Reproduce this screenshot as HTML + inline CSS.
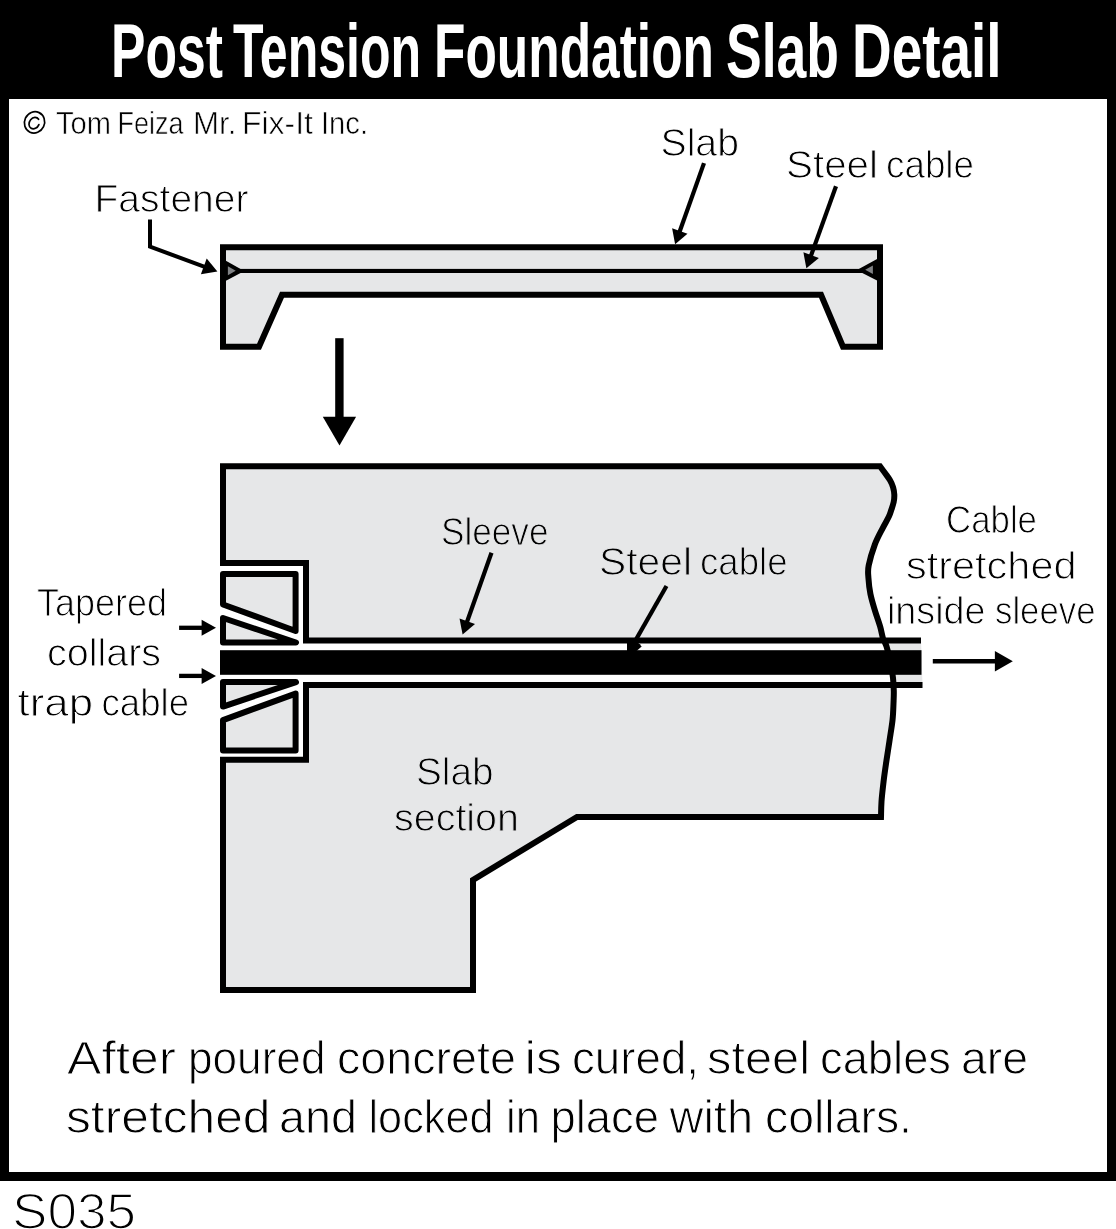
<!DOCTYPE html>
<html><head><meta charset="utf-8"><title>Post Tension Foundation Slab Detail</title>
<style>
html,body{margin:0;padding:0;background:#fff;width:1116px;height:1229px;overflow:hidden;}
svg{display:block;will-change:transform;font-family:"Liberation Sans",sans-serif;}
</style></head><body>
<svg width="1116" height="1229" viewBox="0 0 1116 1229" font-family="Liberation Sans, sans-serif"><rect x="0" y="0" width="1116" height="1181" fill="#000"/>
<rect x="9" y="99" width="1098" height="1073" fill="#fff"/>
<path d="M223,247.3 H880 V346.7 H843 L821,294.8 H282 L259,346.7 H223 Z" fill="#e6e7e8" stroke="#000" stroke-width="6" stroke-linejoin="miter"/>
<rect x="226" y="268.9" width="651" height="4.1" fill="#000"/>
<polygon points="225,260.2 240.6,268.9 240.6,272.9 225,281.2" fill="#000"/>
<polygon points="227.9,266.2 235.7,270.7 227.9,275.2" fill="#808285"/>
<polygon points="878,258.5 858.8,268.9 862.3,272.9 878,280.9" fill="#000"/>
<polygon points="872.9,265.6 865.2,269.8 872.9,274" fill="#808285"/>
<rect x="335.2" y="338.2" width="8.4" height="80" fill="#000"/>
<polygon points="322.8,416.7 356.1,416.7 339.5,445.6" fill="#000"/>
<path d="M223,466.3 H880  C880.8,467.4 883.1,470.4 884.8,472.7 C886.4,475 888.5,477.6 889.9,480 C891.3,482.4 892.4,484.9 893.1,487.3 C893.8,489.7 894.2,492.2 894.3,494.6 C894.4,497.1 894.2,499.6 893.7,502 C893.2,504.4 892.3,506.9 891.5,509.3 C890.7,511.7 890.4,513.4 888.9,516.6 C887.4,519.8 885,523.6 882.6,528.3 C880.2,533 877.1,538.4 874.8,544.6 C872.5,550.8 869.8,559.9 868.7,565.4 C867.6,570.9 868.1,572.9 868.4,577.6 C868.7,582.3 869.3,588.4 870.4,593.8 C871.5,599.2 873.2,604.7 874.8,610.1 C876.4,615.5 878.7,621.6 880.1,626.4 C881.5,631.1 882,635.3 883.1,638.6 C884.2,641.9 885.3,642.4 886.5,646.3 C887.7,650.2 889.4,656.7 890.5,662 C891.6,667.3 892.5,673.2 893,678 C893.5,682.8 893.7,686.8 893.8,691 C893.9,695.2 893.7,698.4 893.5,703.3 C893.3,708.2 893.2,714.1 892.5,720.3 C891.8,726.5 890.5,733.9 889.5,740.7 C888.5,747.5 887.4,754.2 886.4,761 C885.4,767.8 884.4,774.5 883.6,781.3 C882.8,788.1 881.9,795.6 881.5,801.6 C881.1,807.6 881.1,814.4 881,817 H577 L473,880 V990 H223 V759.7 H306 V563 H223 Z" fill="#e6e7e8"/>
<polygon points="306,640.5 884.5,640.5 892.5,685 306,685" fill="#fff"/>
<polygon points="884.5,640.5 921,640.5 922.5,685 892.5,685" fill="#e6e7e8"/>
<rect x="220" y="566" width="83" height="190.70000000000005" fill="#fff"/>
<path d="M921,640.5 H306 V563 H223 V466.3 H880  C880.8,467.4 883.1,470.4 884.8,472.7 C886.4,475 888.5,477.6 889.9,480 C891.3,482.4 892.4,484.9 893.1,487.3 C893.8,489.7 894.2,492.2 894.3,494.6 C894.4,497.1 894.2,499.6 893.7,502 C893.2,504.4 892.3,506.9 891.5,509.3 C890.7,511.7 890.4,513.4 888.9,516.6 C887.4,519.8 885,523.6 882.6,528.3 C880.2,533 877.1,538.4 874.8,544.6 C872.5,550.8 869.8,559.9 868.7,565.4 C867.6,570.9 868.1,572.9 868.4,577.6 C868.7,582.3 869.3,588.4 870.4,593.8 C871.5,599.2 873.2,604.7 874.8,610.1 C876.4,615.5 878.7,621.6 880.1,626.4 C881.5,631.1 882,635.3 883.1,638.6 C884.2,641.9 885.3,642.4 886.5,646.3 C887.7,650.2 889.4,656.7 890.5,662 C891.6,667.3 892.5,673.2 893,678 C893.5,682.8 893.7,686.8 893.8,691 C893.9,695.2 893.7,698.4 893.5,703.3 C893.3,708.2 893.2,714.1 892.5,720.3 C891.8,726.5 890.5,733.9 889.5,740.7 C888.5,747.5 887.4,754.2 886.4,761 C885.4,767.8 884.4,774.5 883.6,781.3 C882.8,788.1 881.9,795.6 881.5,801.6 C881.1,807.6 881.1,814.4 881,817 H577 L473,880 V990 H223 V759.7 H306 V685 H922.5" fill="none" stroke="#000" stroke-width="6" stroke-linejoin="miter"/>
<rect x="220" y="650.2" width="701.5" height="24.59999999999991" fill="#000"/>
<polygon points="223,574 295.6,574 295.6,631 223,604.5" fill="#e6e7e8" stroke="#000" stroke-width="6" stroke-linejoin="round"/>
<polygon points="223,618 296,642.5 223,642.5" fill="#e6e7e8" stroke="#000" stroke-width="6" stroke-linejoin="round"/>
<polygon points="223,750.6 295.6,750.6 295.6,693.6 223,720.1" fill="#e6e7e8" stroke="#000" stroke-width="6" stroke-linejoin="round"/>
<polygon points="223,706.6 296,682.1 223,682.1" fill="#e6e7e8" stroke="#000" stroke-width="6" stroke-linejoin="round"/>
<path d="M150,219.4 L150,246.7 L204.7,266.8" fill="none" stroke="#000" stroke-width="4" stroke-linejoin="miter"/><polygon points="217.4,271.4 200.9,274.3 206.7,258.5" fill="#000"/>
<path d="M704,163.1 L679.5,232" fill="none" stroke="#000" stroke-width="4.2" stroke-linejoin="miter"/><polygon points="675.1,244.2 672.1,228.3 687.5,233.8" fill="#000"/>
<path d="M836,186.2 L810.8,256.1" fill="none" stroke="#000" stroke-width="4.2" stroke-linejoin="miter"/><polygon points="806.4,268.3 803.4,252.3 818.9,257.9" fill="#000"/>
<path d="M491.5,552.8 L466.9,622.2" fill="none" stroke="#000" stroke-width="4.2" stroke-linejoin="miter"/><polygon points="462.6,634.5 459.5,618.6 475,624" fill="#000"/>
<path d="M666.5,586 L634.4,642.4" fill="none" stroke="#000" stroke-width="4.2" stroke-linejoin="miter"/><polygon points="629,652 628.8,638.1 641,645" fill="#000"/>
<polygon points="627,642 637,642 641.7,646.5 636.5,651 627,651" fill="#000"/>
<path d="M179.1,627.8 L202.6,627.8" fill="none" stroke="#000" stroke-width="4.3" stroke-linejoin="miter"/><polygon points="216,627.8 201.6,635.8 201.6,619.8" fill="#000"/>
<path d="M179.1,675.9 L202.6,675.9" fill="none" stroke="#000" stroke-width="4.3" stroke-linejoin="miter"/><polygon points="216,675.9 201.6,683.9 201.6,667.9" fill="#000"/>
<path d="M932.8,661.2 L995.9,661.2" fill="none" stroke="#000" stroke-width="4.6" stroke-linejoin="miter"/><polygon points="1012.8,661.2 994.9,671.4 994.9,651" fill="#000"/>
<ellipse cx="34.5" cy="122.4" rx="10" ry="10.8" transform="rotate(25 34.5 122.4)" fill="none" stroke="#000" stroke-width="1.7"/>
<path d="M38.6,119.3 A4.9,6 30 1 0 38.9,124.6" fill="none" stroke="#000" stroke-width="1.7" stroke-linecap="round"/>
<text x="111" y="76.7" font-size="76" font-weight="bold" fill="#fff" textLength="112.0" lengthAdjust="spacingAndGlyphs">Post</text>
<text x="233" y="76.7" font-size="76" font-weight="bold" fill="#fff" textLength="188.0" lengthAdjust="spacingAndGlyphs">Tension</text>
<text x="434" y="76.7" font-size="76" font-weight="bold" fill="#fff" textLength="280.0" lengthAdjust="spacingAndGlyphs">Foundation</text>
<text x="726" y="76.7" font-size="76" font-weight="bold" fill="#fff" textLength="113.0" lengthAdjust="spacingAndGlyphs">Slab</text>
<text x="852" y="76.7" font-size="76" font-weight="bold" fill="#fff" textLength="149.5" lengthAdjust="spacingAndGlyphs">Detail</text>
<text x="56" y="133.6" font-size="30.5" font-weight="normal" fill="#000" textLength="55.0" lengthAdjust="spacingAndGlyphs" stroke="#fff" stroke-width="0.6">Tom</text>
<text x="117.5" y="133.6" font-size="30.5" font-weight="normal" fill="#000" textLength="66.0" lengthAdjust="spacingAndGlyphs" stroke="#fff" stroke-width="0.6">Feiza</text>
<text x="193" y="133.6" font-size="30.5" font-weight="normal" fill="#000" textLength="43.5" lengthAdjust="spacingAndGlyphs" stroke="#fff" stroke-width="0.6">Mr.</text>
<text x="242" y="133.6" font-size="30.5" font-weight="normal" fill="#000" textLength="71.0" lengthAdjust="spacingAndGlyphs" stroke="#fff" stroke-width="0.6">Fix-It</text>
<text x="321" y="133.6" font-size="30.5" font-weight="normal" fill="#000" textLength="47.0" lengthAdjust="spacingAndGlyphs" stroke="#fff" stroke-width="0.6">Inc.</text>
<text x="94.5" y="212.3" font-size="39" font-weight="normal" fill="#000" textLength="154.0" lengthAdjust="spacingAndGlyphs" stroke="#fff" stroke-width="1.0">Fastener</text>
<text x="660.5" y="156.1" font-size="39" font-weight="normal" fill="#000" textLength="78.5" lengthAdjust="spacingAndGlyphs" stroke="#fff" stroke-width="1.0">Slab</text>
<text x="786" y="178.2" font-size="39" font-weight="normal" fill="#000" textLength="92.0" lengthAdjust="spacingAndGlyphs" stroke="#fff" stroke-width="1.0">Steel</text>
<text x="886" y="178.2" font-size="39" font-weight="normal" fill="#000" textLength="88.0" lengthAdjust="spacingAndGlyphs" stroke="#fff" stroke-width="1.0">cable</text>
<text x="441" y="544.9" font-size="39" font-weight="normal" fill="#000" textLength="107.5" lengthAdjust="spacingAndGlyphs" stroke="#e6e7e8" stroke-width="1.0">Sleeve</text>
<text x="599" y="574.5" font-size="39" font-weight="normal" fill="#000" textLength="93.0" lengthAdjust="spacingAndGlyphs" stroke="#e6e7e8" stroke-width="1.0">Steel</text>
<text x="700" y="574.5" font-size="39" font-weight="normal" fill="#000" textLength="87.5" lengthAdjust="spacingAndGlyphs" stroke="#e6e7e8" stroke-width="1.0">cable</text>
<text x="946" y="533.1" font-size="39" font-weight="normal" fill="#000" textLength="91.0" lengthAdjust="spacingAndGlyphs" stroke="#fff" stroke-width="1.0">Cable</text>
<text x="906" y="578.6" font-size="39" font-weight="normal" fill="#000" textLength="170.5" lengthAdjust="spacingAndGlyphs" stroke="#fff" stroke-width="1.0">stretched</text>
<text x="887" y="623.8" font-size="39" font-weight="normal" fill="#000" textLength="98.5" lengthAdjust="spacingAndGlyphs" stroke="#fff" stroke-width="1.0">inside</text>
<text x="995" y="623.8" font-size="39" font-weight="normal" fill="#000" textLength="100.5" lengthAdjust="spacingAndGlyphs" stroke="#fff" stroke-width="1.0">sleeve</text>
<text x="37" y="616.3" font-size="39" font-weight="normal" fill="#000" textLength="130.0" lengthAdjust="spacingAndGlyphs" stroke="#fff" stroke-width="1.0">Tapered</text>
<text x="47" y="666.2" font-size="39" font-weight="normal" fill="#000" textLength="114.0" lengthAdjust="spacingAndGlyphs" stroke="#fff" stroke-width="1.0">collars</text>
<text x="17.5" y="715.5" font-size="39" font-weight="normal" fill="#000" textLength="75.5" lengthAdjust="spacingAndGlyphs" stroke="#fff" stroke-width="1.0">trap</text>
<text x="101.5" y="715.5" font-size="39" font-weight="normal" fill="#000" textLength="87.5" lengthAdjust="spacingAndGlyphs" stroke="#fff" stroke-width="1.0">cable</text>
<text x="416" y="785" font-size="39" font-weight="normal" fill="#000" textLength="77.5" lengthAdjust="spacingAndGlyphs" stroke="#e6e7e8" stroke-width="1.0">Slab</text>
<text x="394" y="830.9" font-size="39" font-weight="normal" fill="#000" textLength="125.0" lengthAdjust="spacingAndGlyphs" stroke="#e6e7e8" stroke-width="1.0">section</text>
<text x="67" y="1074.4" font-size="47" font-weight="normal" fill="#000" textLength="109.0" lengthAdjust="spacingAndGlyphs" stroke="#fff" stroke-width="1.0">After</text>
<text x="188" y="1074.4" font-size="47" font-weight="normal" fill="#000" textLength="137.5" lengthAdjust="spacingAndGlyphs" stroke="#fff" stroke-width="1.0">poured</text>
<text x="337" y="1074.4" font-size="47" font-weight="normal" fill="#000" textLength="179.0" lengthAdjust="spacingAndGlyphs" stroke="#fff" stroke-width="1.0">concrete</text>
<text x="524.5" y="1074.4" font-size="47" font-weight="normal" fill="#000" textLength="37.5" lengthAdjust="spacingAndGlyphs" stroke="#fff" stroke-width="1.0">is</text>
<text x="572" y="1074.4" font-size="47" font-weight="normal" fill="#000" textLength="127.0" lengthAdjust="spacingAndGlyphs" stroke="#fff" stroke-width="1.0">cured,</text>
<text x="707" y="1074.4" font-size="47" font-weight="normal" fill="#000" textLength="103.0" lengthAdjust="spacingAndGlyphs" stroke="#fff" stroke-width="1.0">steel</text>
<text x="820" y="1074.4" font-size="47" font-weight="normal" fill="#000" textLength="131.0" lengthAdjust="spacingAndGlyphs" stroke="#fff" stroke-width="1.0">cables</text>
<text x="961" y="1074.4" font-size="47" font-weight="normal" fill="#000" textLength="67.0" lengthAdjust="spacingAndGlyphs" stroke="#fff" stroke-width="1.0">are</text>
<text x="66" y="1133.2" font-size="47" font-weight="normal" fill="#000" textLength="204.5" lengthAdjust="spacingAndGlyphs" stroke="#fff" stroke-width="1.0">stretched</text>
<text x="279" y="1133.2" font-size="47" font-weight="normal" fill="#000" textLength="78.0" lengthAdjust="spacingAndGlyphs" stroke="#fff" stroke-width="1.0">and</text>
<text x="368.5" y="1133.2" font-size="47" font-weight="normal" fill="#000" textLength="125.0" lengthAdjust="spacingAndGlyphs" stroke="#fff" stroke-width="1.0">locked</text>
<text x="506" y="1133.2" font-size="47" font-weight="normal" fill="#000" textLength="34.0" lengthAdjust="spacingAndGlyphs" stroke="#fff" stroke-width="1.0">in</text>
<text x="550.5" y="1133.2" font-size="47" font-weight="normal" fill="#000" textLength="108.5" lengthAdjust="spacingAndGlyphs" stroke="#fff" stroke-width="1.0">place</text>
<text x="669.5" y="1133.2" font-size="47" font-weight="normal" fill="#000" textLength="83.5" lengthAdjust="spacingAndGlyphs" stroke="#fff" stroke-width="1.0">with</text>
<text x="765" y="1133.2" font-size="47" font-weight="normal" fill="#000" textLength="147.0" lengthAdjust="spacingAndGlyphs" stroke="#fff" stroke-width="1.0">collars.</text>
<text x="12" y="1229.1" font-size="49.5" font-weight="normal" fill="#000" textLength="124.0" lengthAdjust="spacingAndGlyphs" stroke="#fff" stroke-width="1.6">S035</text></svg>
</body></html>
